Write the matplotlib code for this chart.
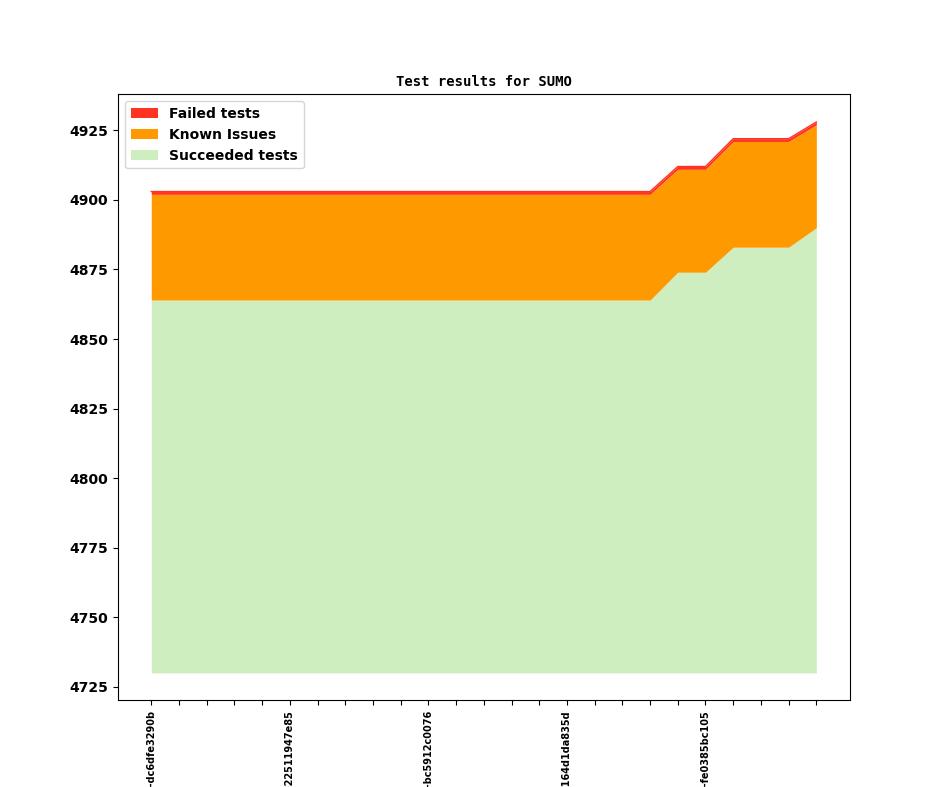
import matplotlib
matplotlib.use("Agg")
import matplotlib.pyplot as plt
import numpy as np

# test counts per build
succeeded = [4864, 4864, 4864, 4864, 4864, 4864, 4864, 4864, 4864, 4864,
             4864, 4864, 4864, 4864, 4864, 4864, 4864, 4864, 4864, 4874,
             4874, 4883, 4883, 4883, 4890]
known = [38, 38, 38, 38, 38, 38, 38, 38, 38, 38,
         38, 38, 38, 38, 38, 38, 38, 38, 38, 37,
         37, 38, 38, 38, 37]
failed = [1, 1, 1, 1, 1, 1, 1, 1, 1, 1,
          1, 1, 1, 1, 1, 1, 1, 1, 1, 1,
          1, 1, 1, 1, 1]
base = 4730
revisions = ["v1_8_0+0412-dc6dfe3290b", "", "", "", "",
             "v1_8_0+0431-22511947e85", "", "", "", "",
             "v1_8_0+0455-bc5912c0076", "", "", "", "",
             "v1_8_0+0478-164d1da835d", "", "", "", "",
             "v1_8_0+0502-fe0385bc105", "", "", "", ""]

COLORS = {"failed": "#ff3322", "known": "#ff9900", "ok": "#ceeec0"}

x = np.arange(len(succeeded))
s = np.array(succeeded)
k = s + np.array(known)
f = k + np.array(failed)

fig = plt.figure(figsize=(9.44, 7.87), dpi=100)
ax = fig.add_subplot(111)
ax.fill_between(x, base, s, color=COLORS["ok"], lw=0, label="Succeeded tests")
ax.fill_between(x, s, k, color=COLORS["known"], lw=0, label="Known Issues")
ax.fill_between(x, k, f, color=COLORS["failed"], lw=0, label="Failed tests")
# thin red edge on top of the stack
ax.plot(x, f, color=COLORS["failed"], lw=1.0)

handles, labels = ax.get_legend_handles_labels()
ax.legend(handles[::-1], labels[::-1], loc="upper left", prop={"weight": "bold"})

ax.set_xticks(x)
ax.set_xticklabels(revisions, rotation=90, fontsize=7, fontweight="bold")
for lab in ax.get_yticklabels():
    lab.set_fontweight("bold")
ax.set_title("Test results for SUMO", family="monospace", fontweight="bold", fontsize=10)

fig.savefig("out.png", dpi=100)
